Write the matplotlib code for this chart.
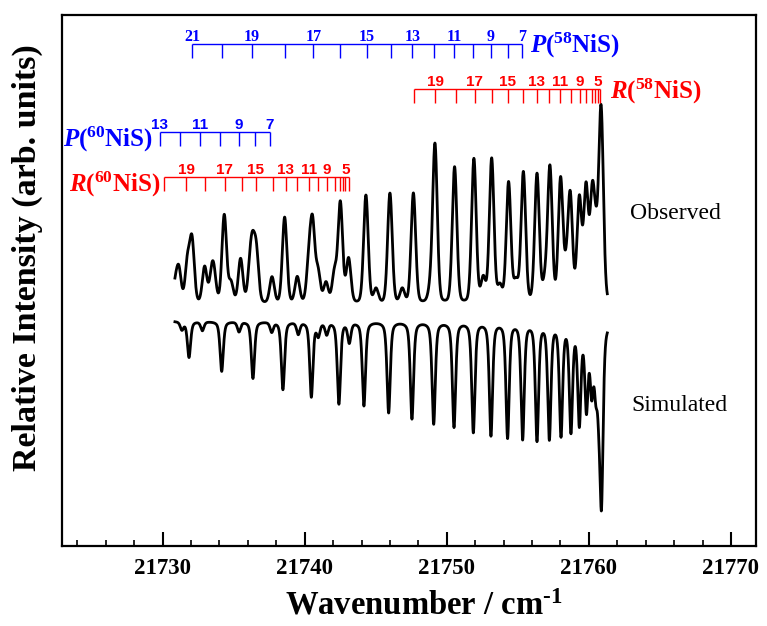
import numpy as np
import matplotlib
matplotlib.use('Agg')
import matplotlib.pyplot as plt
from matplotlib.ticker import MultipleLocator

plt.rcParams['font.family'] = 'Liberation Serif'
plt.rcParams['mathtext.fontset'] = 'custom'
plt.rcParams['mathtext.rm'] = 'Liberation Serif:bold'
plt.rcParams['mathtext.bf'] = 'Liberation Serif:bold'
plt.rcParams['mathtext.it'] = 'Liberation Serif:italic:bold'
plt.rcParams['mathtext.default'] = 'rm'

# scanned range of the band (cm-1)
scan = (21730.87, 21761.30)

# observed spectrum: line centres (cm-1) and peak heights (arb. units)
obs_pos = [21730.90, 21731.15, 21731.75, 21732.07, 21732.96, 21733.45, 21733.62,
           21734.34, 21734.81, 21735.49, 21736.15, 21736.34, 21736.60, 21737.70,
           21738.59, 21739.48, 21740.30, 21740.56, 21740.94, 21741.50, 21742.10,
           21742.51, 21743.09, 21744.31, 21745.02, 21746.00, 21746.87, 21747.65,
           21748.85, 21749.17, 21750.55, 21751.91, 21752.57, 21753.16, 21753.74,
           21754.35, 21754.87, 21755.39, 21756.35, 21756.91, 21757.26, 21758.01,
           21758.40, 21758.69, 21759.33, 21759.80, 21760.24, 21760.50, 21760.86]
obs_int = [0.09, 0.16, 0.20, 0.31, 0.18, 0.12, 0.12,
           0.44, 0.10, 0.22, 0.15, 0.22, 0.24, 0.13,
           0.43, 0.13, 0.20, 0.37, 0.15, 0.10, 0.15,
           0.50, 0.22, 0.54, 0.07, 0.55, 0.07, 0.55,
           0.06, 0.79, 0.68, 0.72, 0.12, 0.72, 0.08,
           0.60, 0.10, 0.65, 0.64, 0.09, 0.67, 0.61,
           0.12, 0.52, 0.51, 0.56, 0.50, 0.24, 0.96]

# simulated spectrum: line centres (cm-1) and depths (arb. units)
sim_pos = [21731.36, 21731.86, 21732.80, 21734.16, 21735.38, 21736.36, 21737.68,
           21738.47, 21739.55, 21740.47, 21740.96, 21741.55, 21742.41, 21743.14,
           21744.17, 21745.91, 21747.55, 21749.08, 21750.51, 21751.87, 21753.11,
           21754.28, 21755.34, 21756.35, 21757.22, 21758.04, 21758.74, 21759.33,
           21759.83, 21760.20, 21760.49, 21760.70, 21760.89]
sim_int = [0.04, 0.18, 0.045, 0.25, 0.05, 0.285, 0.05,
           0.34, 0.06, 0.375, 0.065, 0.06, 0.41, 0.10,
           0.42, 0.455, 0.485, 0.51, 0.525, 0.55, 0.565,
           0.575, 0.58, 0.585, 0.575, 0.555, 0.53, 0.49,
           0.41, 0.31, 0.27, 0.26, 0.84]

# rotational assignments
p58_J = list(range(21, 6, -1))
p58_pos = [21732.09, 21734.20, 21736.31, 21738.61, 21740.61, 21742.51, 21744.36,
           21746.07, 21747.57, 21749.10, 21750.53, 21751.86, 21753.11, 21754.29,
           21755.27]
r58_J = list(range(20, 3, -1))
r58_pos = [21747.69, 21749.20, 21750.63, 21751.97, 21753.15, 21754.29, 21755.38,
           21756.33, 21757.21, 21758.00, 21758.71, 21759.35, 21759.82, 21760.20,
           21760.46, 21760.66, 21760.80]
p60_J = list(range(13, 6, -1))
p60_pos = [21729.79, 21731.20, 21732.64, 21734.07, 21735.38, 21736.52, 21737.56]
r60_J = list(range(20, 3, -1))
r60_pos = [21730.12, 21731.65, 21733.00, 21734.37, 21735.61, 21736.57, 21737.75,
           21738.66, 21739.48, 21740.30, 21740.96, 21741.55, 21742.11, 21742.48,
           21742.67, 21742.86, 21743.10]
r_shown = [19, 17, 15, 13, 11, 9, 5]


def pvoigt(x, x0, fwhm, eta):
    sig = fwhm / 2.3548
    g = np.exp(-0.5 * ((x - x0) / sig) ** 2)
    l = 1.0 / (1.0 + ((x - x0) / (fwhm / 2)) ** 2)
    return eta * l + (1 - eta) * g


def comb(ax, pos, J, y, color, shown, family, size):
    pos = np.asarray(pos)
    ax.hlines(y, pos.min(), pos.max(), color=color, lw=1.0)
    ax.vlines(pos, y - 0.072, y, color=color, lw=1.0)
    for j, x in zip(J, pos):
        if j in shown:
            ax.text(x, y + 0.014, str(j), color=color, ha='center', va='baseline',
                    fontweight='bold', family=family, fontsize=size)


def iso_label(ax, branch, mass, x, y, color, side, dx):
    txt = r'$\mathit{%s}$($^{%d}$NiS)' % (branch, mass)
    ax.annotate(txt, (x, y), xytext=(dx, 0), textcoords='offset points',
                color=color, fontsize=18, fontweight='bold',
                ha='left' if side == 'right' else 'right', va='baseline')


fig = plt.figure(figsize=(7.67, 6.26), dpi=100)
ax = fig.add_axes([0.0808, 0.1278, 0.9048, 0.8482])

w = np.arange(scan[0], scan[1], 0.004)
obs = np.zeros_like(w)
for x0, a in zip(obs_pos, obs_int):
    obs += a * pvoigt(w, x0, 0.38, 0.15)
sim = np.zeros_like(w)
for x0, a in zip(sim_pos, sim_int):
    sim += a * pvoigt(w, x0, 0.27, 0.5)

ax.plot(w, 1.21 + obs, color='black', lw=2.0)
ax.plot(w, 1.125 - sim, color='black', lw=2.0)

comb(ax, p58_pos, p58_J, 2.51, 'blue', range(21, 6, -2), 'Liberation Serif', 11.5)
comb(ax, r58_pos, r58_J, 2.285, 'red', r_shown, 'Liberation Sans', 11)
comb(ax, p60_pos, p60_J, 2.07, 'blue', range(13, 6, -2), 'Liberation Sans', 11)
comb(ax, r60_pos, r60_J, 1.847, 'red', r_shown, 'Liberation Sans', 11)

iso_label(ax, 'P', 58, max(p58_pos), 2.51 - 0.045, 'blue', 'right', 6)
iso_label(ax, 'R', 58, max(r58_pos), 2.285 - 0.05, 'red', 'right', 7)
iso_label(ax, 'P', 60, min(p60_pos), 2.07 - 0.075, 'blue', 'left', -5)
iso_label(ax, 'R', 60, min(r60_pos), 1.847 - 0.075, 'red', 'left', -3)

ax.text(21762.9, 1.665, 'Observed', fontsize=17, va='center', ha='left')
ax.text(21763.0, 0.705, 'Simulated', fontsize=17, va='center', ha='left')

ax.set_xlim(21722.92, 21771.76)
ax.set_ylim(0, 2.655)
ax.set_yticks([])
ax.xaxis.set_major_locator(MultipleLocator(10))
ax.xaxis.set_minor_locator(MultipleLocator(2))
ax.tick_params(axis='x', which='major', direction='in', length=10, width=1.5,
               pad=9, labelsize=16.5)
ax.tick_params(axis='x', which='minor', direction='in', length=4.5, width=1.2)
for lab in ax.get_xticklabels():
    lab.set_fontweight('bold')
for sp in ax.spines.values():
    sp.set_linewidth(1.6)

ax.set_xlabel(r'Wavenumber / cm$^{\text{-1}}$', fontsize=23.5, fontweight='bold')
ax.xaxis.set_label_coords(0.522, -0.083)
ax.set_ylabel('Relative Intensity (arb. units)', fontsize=24.5, fontweight='bold')
ax.yaxis.set_label_coords(-0.028, 0.543)

fig.savefig('out.png', dpi=100)
